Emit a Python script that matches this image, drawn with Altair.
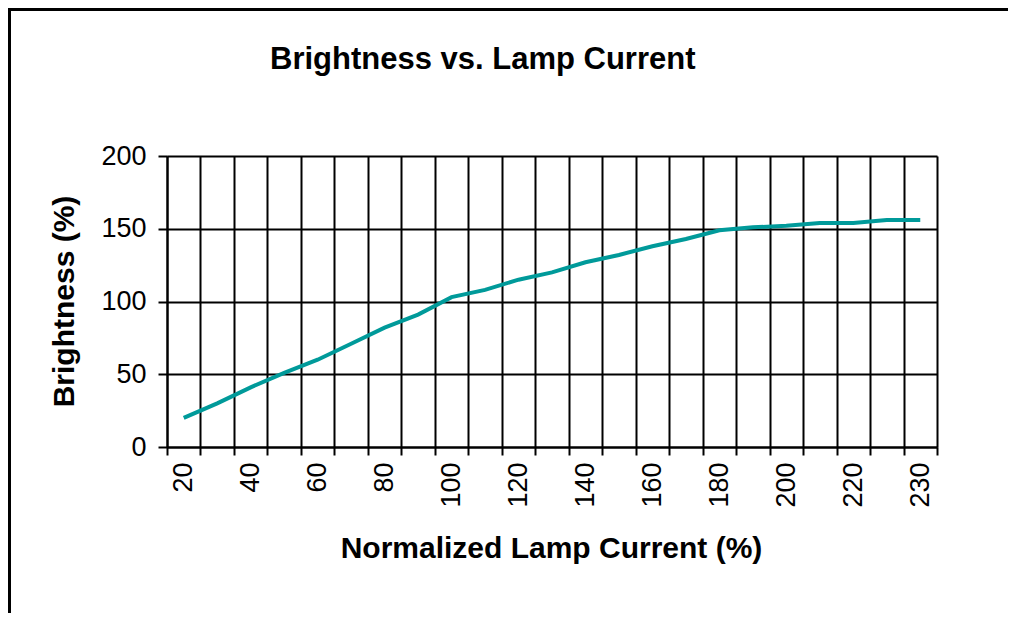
import altair as alt
import pandas as pd

# Data
currents = [20, 30, 40, 50, 60, 70, 80, 90, 100, 110, 120, 130, 140, 150,
            160, 170, 180, 190, 200, 210, 220, 225, 230]
brightness = [20, 30, 41, 51, 60, 71, 82, 91, 103, 108, 115, 120, 127, 132,
              138, 143, 149, 151, 152, 154, 154, 156, 156]
shown_labels = [20, 40, 60, 80, 100, 120, 140, 160, 180, 200, 220, 230]
y_ticks = [0, 50, 100, 150, 200]

df = pd.DataFrame({"current": currents, "brightness": brightness})

label_expr = "indexof([" + ",".join(str(v) for v in shown_labels) + "], datum.value) >= 0 ? datum.label : ''"

FONT = "Liberation Sans"
W, H = 770, 291
PAD_L, PAD_T, PAD_R, PAD_B = 159, 148, 71, 166

line = alt.Chart(df).mark_line(color="#009A9A", strokeWidth=4).encode(
    x=alt.X(
        "current:O",
        sort=currents,
        scale=alt.Scale(type="band", paddingInner=0, paddingOuter=0),
        axis=alt.Axis(
            title="Normalized Lamp Current (%)",
            tickBand="extent",
            grid=True,
            gridColor="black",
            gridWidth=2,
            gridOpacity=1,
            domainColor="black",
            domainWidth=2,
            tickColor="black",
            tickWidth=2,
            tickSize=8,
            labelAngle=270,
            labelPadding=7,
            labelFont=FONT,
            labelFontSize=27,
            labelColor="black",
            labelExpr=label_expr,
            labelOverlap=False,
            titleFont=FONT,
            titleFontSize=30,
            titleFontWeight="bold",
            titleColor="black",
            titleX=384,
            titleY=101,
            titleBaseline="middle",
            titleAlign="center",
        ),
    ),
    y=alt.Y(
        "brightness:Q",
        scale=alt.Scale(domain=[0, 200], nice=False, zero=True),
        axis=alt.Axis(
            title="Brightness (%)",
            values=y_ticks,
            grid=True,
            gridColor="black",
            gridWidth=2,
            gridOpacity=1,
            domainColor="black",
            domainWidth=2,
            tickColor="black",
            tickWidth=2,
            tickSize=9,
            labelPadding=12,
            labelFont=FONT,
            labelFontSize=27,
            labelColor="black",
            titleFont=FONT,
            titleFontSize=30,
            titleFontWeight="bold",
            titleColor="black",
            titleAngle=270,
            titleX=-103,
            titleY=145,
            titleBaseline="middle",
            titleAlign="center",
        ),
    ),
)

frame_df = pd.DataFrame({"k": [0]})
top_rule = alt.Chart(frame_df).mark_rule(color="black", strokeWidth=3).encode(
    x=alt.value(-PAD_L), x2=alt.value(W + PAD_R), y=alt.value(-PAD_T + 1.5)
)
left_rule = alt.Chart(frame_df).mark_rule(color="black", strokeWidth=3).encode(
    x=alt.value(-PAD_L + 1.5), y=alt.value(-PAD_T), y2=alt.value(H + PAD_B)
)

chart = alt.layer(line, top_rule, left_rule).properties(
    width=W,
    height=H,
    autosize=alt.AutoSizeParams(type="none"),
    padding={"left": PAD_L, "top": PAD_T, "right": PAD_R, "bottom": PAD_B},
    title=alt.TitleParams(
        text="Brightness vs. Lamp Current",
        font=FONT,
        fontSize=31,
        fontWeight="bold",
        color="black",
        anchor="start",
        frame="group",
        dx=103,
        dy=93,
        offset=0,
        baseline="alphabetic",
    ),
).configure_view(stroke="black", strokeWidth=2).configure(background="white")

chart.save("out.html", embed_options={"renderer": "svg", "actions": False})
